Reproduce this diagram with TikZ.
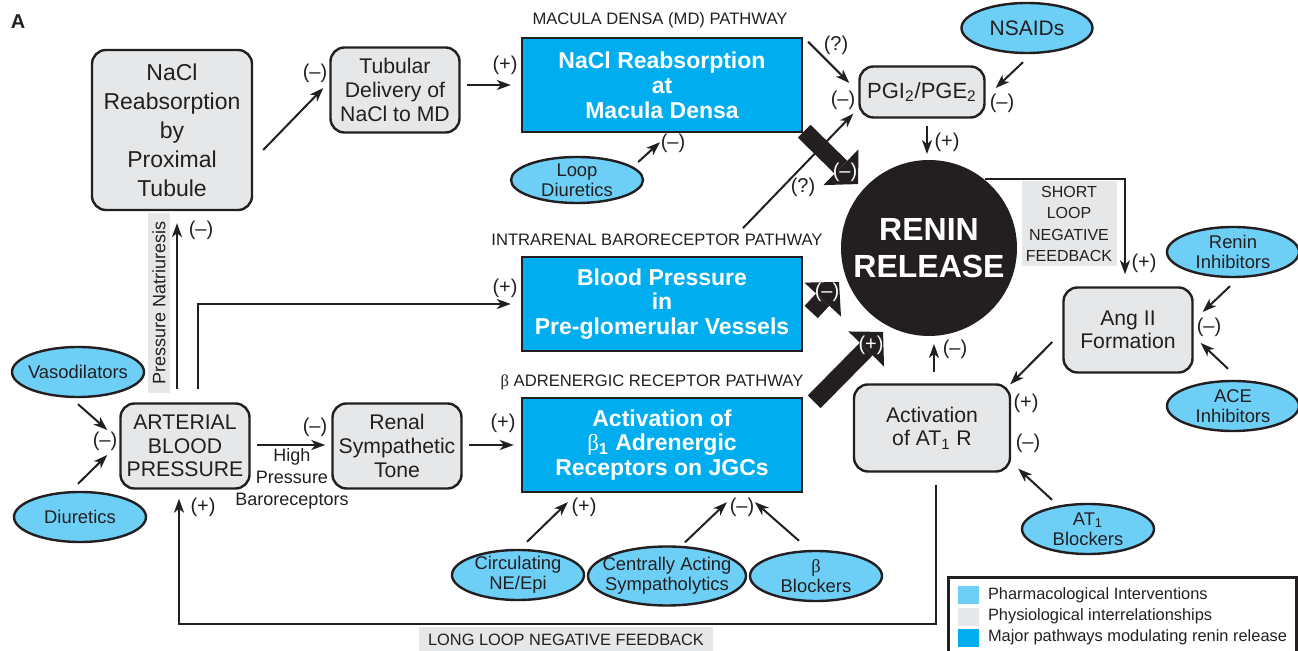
\documentclass[tikz,border=0pt]{standalone}
\usepackage{fontspec}
\setmainfont{Liberation Sans}
\newfontfamily\grk{Liberation Serif}
\usetikzlibrary{arrows.meta,shapes.geometric}

\definecolor{pharm}{RGB}{109,207,246}
\definecolor{physio}{RGB}{230,231,232}
\definecolor{major}{RGB}{0,174,239}
\definecolor{ink}{RGB}{35,31,32}
\newcommand{\fsz}[2]{\fontsize{#1}{#2}\selectfont}

\begin{document}
\begin{tikzpicture}[x=0.5pt, y=-0.5pt, line width=1pt, color=ink,
  >={Stealth[length=7pt,width=5pt,inset=2pt]},
  physbox/.style={draw, fill=physio, rounded corners=7pt, line width=1.2pt, align=center,
    inner sep=0pt, minimum width=64.5pt, minimum height=42.5pt, font=\fsz{10.6}{11.8}},
  majorbox/.style={draw, fill=major, line width=1.2pt, align=center, inner sep=0pt, text=white,
    minimum width=140pt, minimum height=47pt, font=\bfseries\fsz{11.5}{12.4}},
  drug/.style={draw, fill=pharm, ellipse, line width=1.2pt, align=center, inner xsep=-9pt,
    inner ysep=-3pt, minimum width=66pt, minimum height=25pt, font=\fsz{9.2}{10}},
  sgn/.style={inner sep=0pt, font=\fsz{10}{12}},
  wsgn/.style={sgn, text=white},
  pathlab/.style={inner sep=0pt, font=\fsz{8.3}{10}},
  graylab/.style={fill=physio, align=center, inner sep=0pt, font=\fsz{8.2}{10.5}},
  swatch/.style={minimum width=10.5pt, minimum height=9pt, inner sep=0pt},
  fat/.style={line width=9pt, -{Triangle[length=12pt,width=25pt,line width=0pt]}},
  arr/.style={->}]
  \useasboundingbox (0,0) rectangle (1298,651);

  \node[font=\bfseries\fsz{10}{12}] (panel) at (18,22) {A};

  % macula densa row
  \node[physbox, minimum width=80pt, minimum height=80pt, font=\fsz{11.5}{14.5}] (prox) at (172,130)
    {NaCl\\Reabsorption\\by\\Proximal\\Tubule};
  \node[physbox] (tub) at (395,90) {Tubular\\Delivery of\\NaCl to MD};
  \node[pathlab] (mdlab) at (660,20) {MACULA DENSA (MD) PATHWAY};
  \node[majorbox] (md) at (662,85) {NaCl Reabsorption\\at\\Macula Densa};
  \node[drug, minimum height=23pt] (loopd) at (577,180) {Loop\\Diuretics};
  \node[physbox, minimum width=62.5pt, minimum height=25.5pt, font=\fsz{11}{12}] (pgi) at (922,92)
    {PGI\textsubscript{2}/PGE\textsubscript{2}};
  \node[drug, minimum width=65.5pt, font=\fsz{10.5}{12}] (nsaid) at (1027,28) {NSAIDs};

  \node[circle, fill=ink, minimum size=88pt, inner sep=0pt, align=center, text=white,
    font=\bfseries\fsz{16}{18.5}] (renin) at (929,248) {RENIN\\RELEASE};

  % short loop
  \node[graylab, minimum width=47.5pt, minimum height=42.5pt, font=\fsz{8}{10.6}] (short) at (1069,224)
    {SHORT\\LOOP\\NEGATIVE\\FEEDBACK};
  \node[drug] (reninh) at (1233,252) {Renin\\Inhibitors};
  \node[physbox] (angii) at (1128,330) {Ang II\\Formation};
  \node[drug] (ace) at (1233,406) {ACE\\Inhibitors};
  \node[physbox, minimum width=78pt, minimum height=43.5pt] (at1r) at (932,428)
    {Activation\\of AT\textsubscript{1} R};
  \node[drug] (at1b) at (1088,529) {AT\textsubscript{1}\\Blockers};

  % baroreceptor and beta rows
  \node[pathlab] (bplab) at (657,240) {INTRARENAL BARORECEPTOR PATHWAY};
  \node[majorbox] (bp) at (662,304) {Blood Pressure\\in\\Pre-glomerular Vessels};
  \node[pathlab] (betalab) at (652,382) {{\grk β} ADRENERGIC RECEPTOR PATHWAY};
  \node[majorbox] (beta) at (662,445)
    {Activation of\\{\grk\mdseries β}\textsubscript{1} Adrenergic\\Receptors on JGCs};

  \node[physbox] (abp) at (185,446) {ARTERIAL\\BLOOD\\PRESSURE};
  \node[physbox] (rst) at (397,446) {Renal\\Sympathetic\\Tone};
  \node[drug] (vaso) at (78,372) {Vasodilators};
  \node[drug] (diur) at (80,517) {Diuretics};
  \node[drug] (circ) at (518,575) {Circulating\\NE/Epi};
  \node[drug, minimum width=79pt, minimum height=29.5pt] (cas) at (667,576)
    {Centrally Acting\\Sympatholytics};
  \node[drug] (bblk) at (816,576) {{\grk β}\\Blockers};

  \node[align=center, inner sep=0pt, font=\fsz{9}{11}] (hpb) at (292,479) {High\\Pressure\\Baroreceptors};
  \node[graylab, rotate=90, minimum width=90pt, minimum height=11pt, font=\fsz{9}{11}] (natri) at (159,303)
    {Pressure Natriuresis};
  \node[graylab, minimum width=147pt, minimum height=13pt] (longlab) at (566,640)
    {LONG LOOP NEGATIVE FEEDBACK};

  % thin arrows
  \draw[arr] ([shift={(10,20)}]prox.east) -- ([shift={(-6,-2)}]tub.west);
  \draw[arr] ([shift={(6,-5)}]tub.east) -- ([shift={(-10,0)}]md.west);
  \draw[arr] ([shift={(-6,-18)}]loopd.east) -- ([shift={(-2,9)}]md.south);
  \draw[arr] ([shift={(5,5)}]md.north east) -- ([shift={(-9,-9)}]pgi.west);
  \draw[arr] ([shift={(86,-5)}]bplab.north) -- ([shift={(-5,-5)}]pgi.south west);
  \draw[arr] ([shift={(-4,8)}]nsaid.south) -- ([shift={(10,-4)}]pgi.east);
  \draw[arr] ([shift={(5,7)}]pgi.south) -- ([shift={(-2,-5)}]renin.north);
  \draw[arr] (renin.51) -| ([shift={(-3,-12)}]angii.north);
  \draw[arr] ([shift={(-3,8)}]reninh.south) -- ([shift={(9,-18)}]angii.east);
  \draw[arr] ([shift={(-5,-11)}]ace.north) -- ([shift={(7,13)}]angii.east);
  \draw[arr] ([shift={(-10,12)}]angii.west) -- ([shift={(-1,1)}]at1r.north east);
  \draw[arr] ([shift={(-36,-3)}]at1b.north) -- ([shift={(7,-4)}]at1r.south east);
  \draw[arr] ([shift={(2,-11)}]at1r.north) -- ([shift={(5,7)}]renin.south);
  \draw[arr] ([shift={(4,12)}]at1r.south) -- ++(0,139) -| ([shift={(-6,9)}]abp.south);
  \draw[arr] ([shift={(0,6)}]vaso.south) -- ([shift={(-12,-16)}]abp.west);
  \draw[arr] ([shift={(-2,-7)}]diur.north) -- ([shift={(-12,9)}]abp.west);
  \draw[arr] ([shift={(6,-1)}]abp.east) -- ([shift={(-6,-1)}]rst.west);
  \draw[arr] ([shift={(6,-1)}]rst.east) -- ([shift={(-7,0)}]beta.west);
  \draw[arr] ([shift={(-8,-13)}]abp.north) -- ([shift={(5,12)}]prox.south);
  \draw[arr] ([shift={(13,-13)}]abp.north) |- ([shift={(-10,0)}]bp.west);
  \draw[arr] ([shift={(9,-7)}]circ.north) -- ([shift={(47,9)}]beta.south west);
  \draw[arr] ([shift={(18,-3)}]cas.north) -- ([shift={(65,9)}]beta.south);
  \draw[arr] ([shift={(-17,-9)}]bblk.north) -- ([shift={(93,9)}]beta.south);

  % major pathways into renin
  \draw[fat] ([shift={(1,-2)}]md.south east) -- ([shift={(-8,-1)}]renin.north west);
  \draw[fat] ([shift={(8,8)}]bp.east) -- ([shift={(-1,34)}]renin.west);
  \draw[fat] ([shift={(11,5)}]beta.north east) -- ([shift={(17,21)}]renin.south west);

  % signs
  \node[sgn] (s1) at (315,73) {(–)};
  \node[sgn] (s2) at (505,65) {(+)};
  \node[sgn] (s3) at (673,143) {(–)};
  \node[sgn] (s4) at (836,45) {(?)};
  \node[sgn] (s5) at (843,100) {(–)};
  \node[sgn] (s6) at (1002,103) {(–)};
  \node[sgn] (s7) at (803,187) {(?)};
  \node[sgn] (s8) at (947,142) {(+)};
  \node[sgn] (s9) at (1144,263) {(+)};
  \node[sgn] (s10) at (1209,327) {(–)};
  \node[sgn] (s11) at (1026,403) {(+)};
  \node[sgn] (s12) at (1028,443) {(–)};
  \node[sgn] (s13) at (955,349) {(–)};
  \node[sgn] (s14) at (203,507) {(+)};
  \node[sgn] (s15) at (105,441) {(–)};
  \node[sgn] (s16) at (315,427) {(–)};
  \node[sgn] (s17) at (503,423) {(+)};
  \node[sgn] (s18) at (505,288) {(+)};
  \node[sgn] (s19) at (201,230) {(–)};
  \node[sgn] (s20) at (584,507) {(+)};
  \node[sgn] (s21) at (742,507) {(–)};
  \node[wsgn] (w1) at (845,172) {(–)};
  \node[wsgn] (w2) at (827,292) {(–)};
  \node[wsgn] (w3) at (871,345) {(+)};

  % legend
  \draw[line width=1.5pt] (948,660) |- (1296,578) -- (1296,660);
  \node[swatch, fill=pharm] (sw1) at (968.5,595) {};
  \node[swatch, fill=physio] (sw2) at (968.5,617) {};
  \node[swatch, fill=major] (sw3) at (968.5,638) {};
  \node[anchor=west, inner sep=0pt, font=\fsz{8.2}{10}] (leg1) at (987,595) {Pharmacological Interventions};
  \node[anchor=west, inner sep=0pt, font=\fsz{8.2}{10}] (leg2) at (987,616) {Physiological interrelationships};
  \node[anchor=west, inner sep=0pt, font=\fsz{8.2}{10}] (leg3) at (987,637) {Major pathways modulating renin release};
\end{tikzpicture}
\end{document}
